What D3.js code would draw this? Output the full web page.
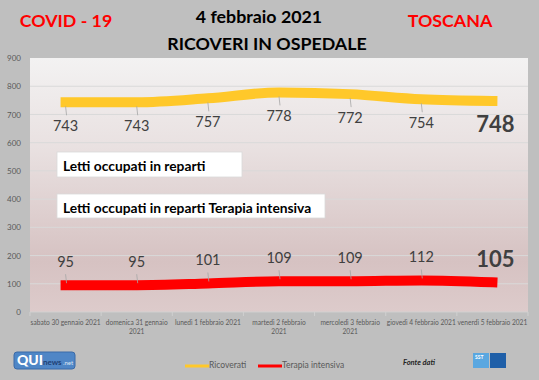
<!DOCTYPE html>
<html><head><meta charset="utf-8">
<script src="https://cdn.jsdelivr.net/npm/d3@7"></script>
<style>html,body{margin:0;padding:0;background:#bfbfbf;}svg{display:block;}</style>
</head><body>
<script>
const categories = [
  ["sabato 30 gennaio 2021"],
  ["domenica 31 gennaio", "2021"],
  ["lunedì 1 febbraio 2021"],
  ["martedì 2 febbraio", "2021"],
  ["mercoledì 3 febbraio", "2021"],
  ["giovedì 4 febbraio 2021"],
  ["venerdì 5 febbraio 2021"]
];
const ricoverati = [743, 743, 757, 778, 772, 754, 748];
const terapiaIntensiva = [95, 95, 101, 109, 109, 112, 105];
const yTicks = [0, 100, 200, 300, 400, 500, 600, 700, 800, 900];

const W = 539, H = 380;
const M = {left: 30, right: 11, top: 58, bottom: 68};
const svg = d3.select("body").append("svg").attr("width", W).attr("height", H);
const font = "Lato, 'Open Sans', sans-serif";

svg.append("rect").attr("width", W).attr("height", H).attr("fill", "#bfbfbf");

const x = d3.scaleBand().domain(d3.range(categories.length)).range([M.left, W - M.right]);
const y = d3.scaleLinear().domain([0, 900]).range([H - M.bottom, M.top]);

const defs = svg.append("defs");
const grad = defs.append("linearGradient").attr("id", "bg").attr("x1", 0).attr("x2", 0).attr("y1", 0).attr("y2", 1);
[[0, "#f3f2f2"], [0.35, "#e9e1e1"], [0.8, "#d6c2c2"], [1, "#ddcbcb"]].forEach(([o, c]) =>
  grad.append("stop").attr("offset", o).attr("stop-color", c));

svg.append("rect").attr("x", M.left).attr("y", M.top)
  .attr("width", W - M.left - M.right).attr("height", H - M.top - M.bottom)
  .attr("fill", "url(#bg)");

// gridlines
svg.append("g").selectAll("line").data(yTicks.filter(d => d > 0 && d < 900)).join("line")
  .attr("x1", M.left).attr("x2", W - M.right)
  .attr("y1", d => y(d)).attr("y2", d => y(d))
  .attr("stroke", "#d9d9d9").attr("stroke-width", 1);

// y axis
const yAxis = svg.append("g").attr("transform", `translate(${M.left},0)`)
  .call(d3.axisLeft(y).tickValues(yTicks).tickSize(0).tickPadding(9));
yAxis.select(".domain").remove();
yAxis.selectAll("text").attr("font-family", font).attr("font-size", 8).attr("fill", "#595959");

// x axis
const xAxisG = svg.append("g").attr("transform", `translate(0,${y(0)})`);
xAxisG.append("line").attr("x1", M.left).attr("x2", W - M.right).attr("stroke", "#d0d0d0");
xAxisG.selectAll("line.tk").data(d3.range(categories.length + 1)).join("line").attr("class", "tk")
  .attr("x1", i => M.left + i * x.step()).attr("x2", i => M.left + i * x.step())
  .attr("y1", 0).attr("y2", 4).attr("stroke", "#d0d0d0");
xAxisG.selectAll("text").data(categories).join("text")
  .attr("x", (d, i) => x(i) + x.bandwidth() / 2).attr("y", 13)
  .attr("text-anchor", "middle").attr("font-family", font).attr("font-size", 6.6).attr("fill", "#595959")
  .each(function(d) {
    d.forEach((t, j) => d3.select(this).append("tspan")
      .attr("x", d3.select(this).attr("x")).attr("dy", j ? 9 : 0).text(t));
  });

// lines
const cx = i => x(i) + x.bandwidth() / 2;
const line = d3.line().x((d, i) => cx(i)).y(d => y(d)).curve(d3.curveMonotoneX);
svg.append("path").datum(ricoverati).attr("d", line).attr("fill", "none")
  .attr("stroke", "#ffc82a").attr("stroke-width", 10).attr("stroke-linecap", "square");
svg.append("path").datum(terapiaIntensiva).attr("d", line).attr("fill", "none")
  .attr("stroke", "#ff0000").attr("stroke-width", 10).attr("stroke-linecap", "square");

// data labels with leader lines
function labels(data, dy, leadA, leadB) {
  const g = svg.append("g");
  g.selectAll("line").data(data.slice(0, -1)).join("line")
    .attr("x1", (d, i) => cx(i)).attr("x2", (d, i) => cx(i) + 1)
    .attr("y1", d => y(d) + leadA).attr("y2", d => y(d) + leadB)
    .attr("stroke", "#a6a6a6").attr("stroke-width", 0.8);
  g.selectAll("text").data(data).join("text")
    .attr("x", (d, i) => cx(i) + (i === data.length - 1 ? 3 : 0))
    .attr("y", d => y(d) + dy)
    .attr("text-anchor", "middle").attr("dominant-baseline", "central")
    .attr("font-family", font)
    .attr("font-size", (d, i) => i === data.length - 1 ? 22 : 14.5)
    .attr("font-weight", (d, i) => i === data.length - 1 ? "bold" : "normal")
    .attr("fill", "#404040").text(d => d);
}
labels(ricoverati, 23, 4, 13);
labels(terapiaIntensiva, -24, -11, -2);

// text boxes
function box(x0, y0, w, h, txt) {
  svg.append("rect").attr("x", x0).attr("y", y0).attr("width", w).attr("height", h)
    .attr("fill", "#ffffff").attr("stroke", "#d9d9d9").attr("stroke-width", 0.8);
  svg.append("text").attr("x", x0 + 6).attr("y", y0 + h / 2 + 1).attr("dominant-baseline", "central")
    .attr("font-family", font).attr("font-weight", "bold").attr("font-size", 13.8).attr("fill", "#000").text(txt);
}
box(57, 152, 185, 25, "Letti occupati in reparti");
box(57, 194, 268, 24, "Letti occupati in reparti Terapia intensiva");

// titles
const title = (t, xx, yy, c, anchor) => svg.append("text").attr("x", xx).attr("y", yy)
  .attr("text-anchor", anchor).attr("dominant-baseline", "central")
  .attr("font-family", font).attr("font-weight", "bold").attr("font-size", 17.8).attr("fill", c).text(t);
title("COVID - 19", 66, 20, "#ff0000", "middle");
title("4 febbraio 2021", 259, 16, "#000", "middle");
title("RICOVERI IN OSPEDALE", 267, 43, "#000", "middle");
title("TOSCANA", 450, 20, "#ff0000", "middle");

// legend
const legend = [["Ricoverati", "#ffc82a", 185], ["Terapia intensiva", "#ff0000", 258]];
legend.forEach(([t, c, lx]) => {
  svg.append("line").attr("x1", lx).attr("x2", lx + 24).attr("y1", 366).attr("y2", 366)
    .attr("stroke", c).attr("stroke-width", 3);
  svg.append("text").attr("x", lx + 24).attr("y", 365).attr("dominant-baseline", "central")
    .attr("font-family", font).attr("font-size", 8.5).attr("fill", "#595959").text(t);
});
svg.append("text").attr("x", 403).attr("y", 362).attr("dominant-baseline", "central")
  .attr("font-family", font).attr("font-size", 7.5).attr("font-style", "italic").attr("font-weight", "bold")
  .attr("fill", "#262626").text("Fonte dati");

// logos
const q = svg.append("g");
q.append("rect").attr("x", 14).attr("y", 352).attr("width", 61).attr("height", 17).attr("rx", 3)
  .attr("fill", "#4f86c6").attr("stroke", "#3a6aa8");
q.append("text").attr("x", 17).attr("y", 365).attr("font-family", font).attr("font-weight", "900")
  .attr("font-size", 14).attr("fill", "#fff").text("QUI");
q.append("text").attr("x", 43).attr("y", 365).attr("font-family", font).attr("font-weight", "bold")
  .attr("font-size", 8).attr("fill", "#1f3f73").text("news");
q.append("text").attr("x", 63).attr("y", 365).attr("font-family", font)
  .attr("font-size", 6).attr("fill", "#dfe9f5").text(".net");
const s = svg.append("g");
s.append("rect").attr("x", 473).attr("y", 353).attr("width", 16).attr("height", 15).attr("fill", "#5aa7e0");
s.append("rect").attr("x", 490).attr("y", 353).attr("width", 16).attr("height", 15).attr("fill", "#1f5fa8");
s.append("text").attr("x", 475).attr("y", 359).attr("font-family", font).attr("font-weight", "bold")
  .attr("font-size", 5).attr("fill", "#fff").text("SST");
</script>
</body></html>
